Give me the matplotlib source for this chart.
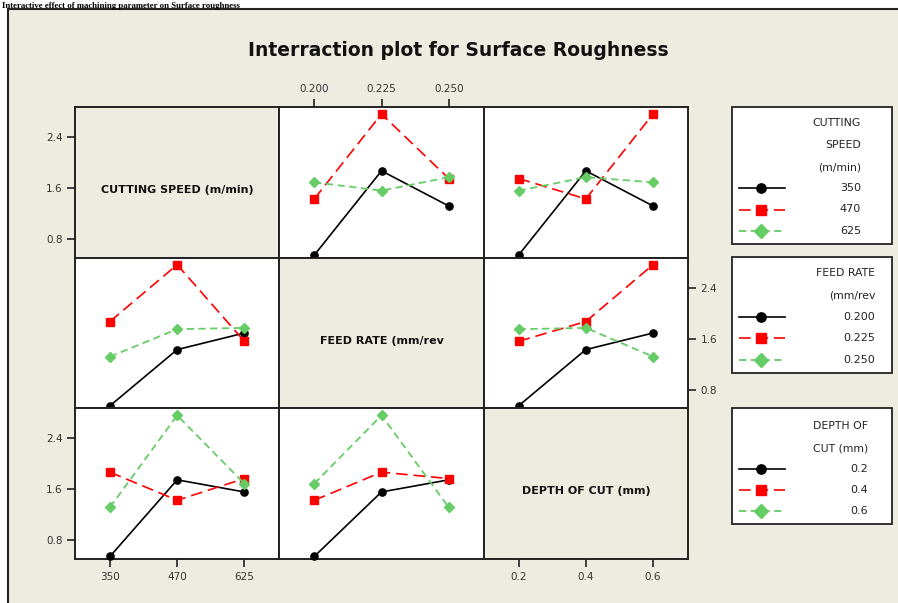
import matplotlib
matplotlib.use("Agg")
import matplotlib.pyplot as plt
from matplotlib.patches import Rectangle
from matplotlib.lines import Line2D
import pandas as pd

# ---- data (L9 runs) ----
speed = [350, 350, 350, 470, 470, 470, 625, 625, 625]
feed = [0.200, 0.225, 0.250, 0.200, 0.225, 0.250, 0.200, 0.225, 0.250]
doc = [0.2, 0.4, 0.6, 0.4, 0.6, 0.2, 0.6, 0.2, 0.4]
ra = [0.55, 1.87, 1.32, 1.43, 2.76, 1.75, 1.69, 1.56, 1.77]

factor_cols = ["speed", "feed", "doc"]
factor_names = ["CUTTING SPEED (m/min)", "FEED RATE (mm/rev", "DEPTH OF CUT (mm)"]
level_labels = {
    "speed": ["350", "470", "625"],
    "feed": ["0.200", "0.225", "0.250"],
    "doc": ["0.2", "0.4", "0.6"],
}
legend_titles = [["CUTTING", "SPEED", "(m/min)"], ["FEED RATE", "(mm/rev"], ["DEPTH OF", "CUT (mm)"]]
yticks = [0.8, 1.6, 2.4]
ytick_labels = ["0.8", "1.6", "2.4"]
title = "Interraction plot for Surface Roughness"
heading = "Interactive effect of machining parameter on Surface roughness"

df = pd.DataFrame({"speed": speed, "feed": feed, "doc": doc, "ra": ra})

W, H = 898, 603
BEIGE = "#EEEBE1"
EDGE = "#222222"
styles = [
    dict(color="black", linestyle="-", marker="o", markersize=5.2, lw=1.2),
    dict(color="#FF0000", linestyle=(0, (7, 3.5)), marker="s", markersize=5.4, lw=1.2),
    dict(color="#66CC66", linestyle=(0, (4, 2.5)), marker="D", markersize=5.3, lw=1.3),
]

fig = plt.figure(figsize=(W / 100, H / 100), dpi=100, facecolor="white")

# outer beige frame
FRAME_TOP = 9
fig.patches.append(Rectangle((8 / W, -0.1), 1.2, 1.1 - FRAME_TOP / H, transform=fig.transFigure,
                             facecolor=BEIGE, edgecolor=EDGE, lw=1.5, zorder=-10))

# heading of the document above the frame
fig.text(2 / W, 1 - 7.5 / H, heading, ha="left", va="baseline", fontsize=6.3,
         fontweight="bold", family="Liberation Serif", color="black")

fig.text(458 / W, 1 - 50 / H, title, ha="center", va="center", fontsize=13.5,
         fontweight="bold", color="#111111")

left, right, top, bottom = 75, 688, 107, 559
pw = (right - left) / 3
ph = (bottom - top) / 3
XLIM = (-0.52, 2.52)
YLIM = (0.51, 2.87)

for i in range(3):
    for j in range(3):
        x0 = left + j * pw
        y0 = top + (i + 1) * ph
        ax = fig.add_axes([x0 / W, 1 - y0 / H, pw / W, ph / H])
        ax.set_xlim(*XLIM)
        ax.set_ylim(*YLIM)
        for s in ax.spines.values():
            s.set_linewidth(1.4)
            s.set_color(EDGE)
        ax.tick_params(direction="out", length=6, width=1.2, color=EDGE,
                       labelsize=7.5, labelcolor="#333333", pad=3)
        ax.set_xticks([0, 1, 2])
        ax.set_xticklabels(level_labels[factor_cols[j]])
        ax.set_yticks(yticks)
        ax.set_yticklabels(ytick_labels)
        ax.tick_params(left=False, labelleft=False, right=False, labelright=False,
                       bottom=False, labelbottom=False, top=False, labeltop=False)
        if i == j:
            ax.set_facecolor(BEIGE)
            ax.text(0.5, 0.45, factor_names[i], transform=ax.transAxes, ha="center",
                    va="center", fontsize=8, fontweight="bold", color="#111111")
        else:
            ax.set_facecolor("white")
            fx = factor_cols[j]
            fl = factor_cols[i]
            piv = df.pivot_table(index=fl, columns=fx, values="ra", aggfunc="mean")
            for k, lvl in enumerate(sorted(df[fl].unique())):
                vals = piv.loc[lvl].values
                ax.plot([0, 1, 2], vals, zorder=3, clip_on=False, **styles[k])
        # alternating tick placement
        if (i, j) in [(0, 0), (2, 0)]:
            ax.tick_params(left=True, labelleft=True)
        if (i, j) == (1, 2):
            ax.tick_params(right=True, labelright=True)
        if (i, j) in [(2, 0), (2, 2)]:
            ax.tick_params(bottom=True, labelbottom=True)
        if (i, j) == (0, 1):
            ax.tick_params(top=True, labeltop=True)

# ---- legend boxes (overlay in pixel coordinates) ----
ov = fig.add_axes([0, 0, 1, 1], zorder=10)
ov.set_xlim(0, W)
ov.set_ylim(H, 0)
ov.axis("off")

boxes = [
    dict(y0=107, y1=244, title_y=[122.7, 144.7, 167.7], item_y=[188.3, 209.5, 230.5], xr=861),
    dict(y0=257, y1=373, title_y=[272.7, 295.7], item_y=[316.7, 338.3, 360.0], xr=875),
    dict(y0=408, y1=524, title_y=[425.7, 448.3], item_y=[469.0, 490.3, 511.3], xr=868),
]
for b, box in enumerate(boxes):
    ov.add_patch(Rectangle((732, box["y0"]), 160, box["y1"] - box["y0"], facecolor="white",
                           edgecolor=EDGE, lw=1.3))
    for t, ty in zip(legend_titles[b], box["title_y"]):
        ov.text(box["xr"], ty, t, ha="right", va="center", fontsize=7.8, color="#222222")
    for k, ty in enumerate(box["item_y"]):
        st = dict(styles[k])
        mk = st.pop("marker")
        ms = st.pop("markersize")
        ov.add_line(Line2D([739, 785], [ty, ty], **st))
        ov.add_line(Line2D([761], [ty], marker=mk, markersize=ms + 1.5, color=st["color"],
                           linestyle="none"))
        ov.text(box["xr"], ty, level_labels[factor_cols[b]][k], ha="right", va="center",
                fontsize=8, color="#222222")

fig.savefig("out.png", dpi=100, facecolor="white")
